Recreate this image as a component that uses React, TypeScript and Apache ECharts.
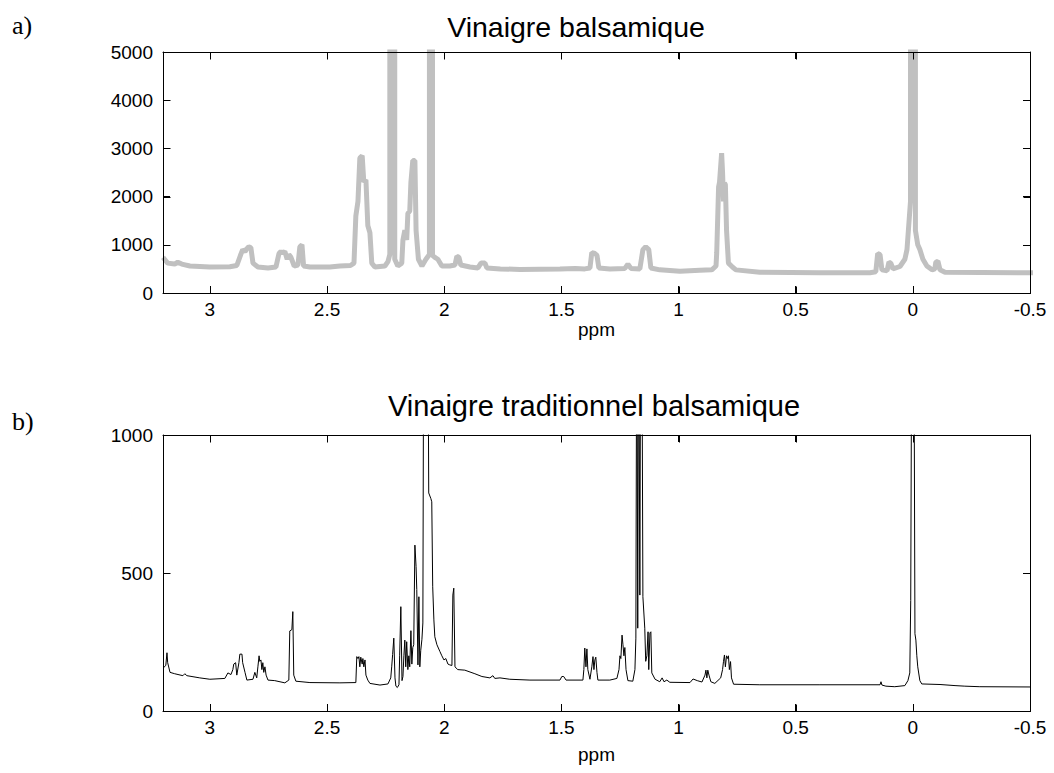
import React, { useEffect, useRef } from "react";
import * as echarts from "echarts";

// a) Vinaigre balsamique — chemical shift (ppm) and intensity
const topPpm = [
  3.2, 3.19, 3.18, 3.15, 3.137, 3.12, 3.085, 3.0, 2.915, 2.885, 2.868, 2.86, 2.85, 2.842, 2.834, 2.825,
  2.816, 2.795, 2.752, 2.718, 2.705, 2.697, 2.69, 2.68, 2.67, 2.663, 2.654, 2.64, 2.624, 2.616, 2.607,
  2.6, 2.573, 2.488, 2.445, 2.4, 2.385, 2.377, 2.368, 2.36, 2.35, 2.343, 2.334, 2.326, 2.317, 2.309,
  2.296, 2.253, 2.24, 2.232, 2.232, 2.211, 2.211, 2.198, 2.181, 2.176, 2.168, 2.16, 2.155, 2.147, 2.142, 2.134,
  2.125, 2.12, 2.11, 2.095, 2.078, 2.063, 2.063, 2.05, 2.05, 2.04, 2.027, 2.01, 1.976, 1.954, 1.946, 1.937, 1.929,
  1.89, 1.856, 1.843, 1.826, 1.818, 1.76, 1.677, 1.506, 1.44, 1.4, 1.378, 1.37, 1.357, 1.348, 1.34,
  1.293, 1.229, 1.216, 1.203, 1.165, 1.152, 1.14, 1.127, 1.118, 1.08, 0.994, 0.909, 0.858, 0.84, 0.837,
  0.829, 0.825, 0.816, 0.812, 0.808, 0.804, 0.8, 0.795, 0.787, 0.77, 0.755, 0.653, 0.4, 0.183, 0.158,
  0.15, 0.14, 0.132, 0.11, 0.102, 0.094, 0.085, 0.055, 0.034, 0.025, 0.01, 0.01, -0.011, -0.011, -0.021,
  -0.03, -0.043, -0.06, -0.082, -0.094, -0.098, -0.107, -0.116, -0.137, -0.517,
];
const topIntensity = [
  740, 680, 620, 600, 640, 600, 560, 540, 545, 570, 800, 900, 860, 920, 960, 940,
  620, 540, 520, 540, 820, 860, 830, 860, 700, 800, 740, 560, 580, 960, 1000,
  560, 540, 540, 560, 570, 620, 1600, 1900, 2800, 2850, 2300, 2350, 1400, 1250, 620,
  540, 560, 650, 800, 9000, 9000, 700, 560, 620, 1100, 1300, 1100, 1650, 1700, 2300, 2750,
  2750, 1300, 700, 560, 700, 800, 9000, 9000, 780, 740, 700, 560, 560, 580, 760, 740, 580,
  540, 520, 620, 620, 520, 500, 490, 500, 510, 500, 520, 840, 820, 780, 520,
  500, 510, 600, 510, 500, 900, 960, 900, 520, 480, 450, 470, 480, 560, 830,
  2200, 2300, 2900, 2500, 1900, 2280, 2250, 1300, 620, 540, 480, 430, 420, 420, 440,
  820, 800, 480, 460, 640, 620, 500, 550, 700, 900, 1900, 9000, 9000, 1300, 1000,
  900, 700, 560, 480, 500, 640, 660, 480, 430, 420,
];

// b) Vinaigre traditionnel balsamique — chemical shift (ppm) and intensity
const bottomPpm = [
  3.2, 3.188, 3.183, 3.18, 3.17, 3.15, 3.115, 3.107, 3.098, 3.043, 3.0, 2.936, 2.923, 2.91, 2.902, 2.898,
  2.89, 2.885, 2.876, 2.872, 2.863, 2.86, 2.85, 2.842, 2.816, 2.808, 2.8, 2.795, 2.79, 2.787, 2.782,
  2.778, 2.774, 2.77, 2.765, 2.76, 2.752, 2.723, 2.68, 2.663, 2.659, 2.65, 2.646, 2.642, 2.633, 2.573,
  2.445, 2.377, 2.373, 2.368, 2.364, 2.36, 2.356, 2.35, 2.347, 2.343, 2.338, 2.334, 2.326, 2.317, 2.274,
  2.24, 2.228, 2.224, 2.22, 2.215, 2.21, 2.206, 2.2, 2.193, 2.19, 2.185, 2.18, 2.176, 2.172, 2.168,
  2.164, 2.16, 2.155, 2.151, 2.147, 2.142, 2.138, 2.134, 2.13, 2.125, 2.12, 2.117, 2.112, 2.108, 2.104,
  2.1, 2.095, 2.091, 2.087, 2.07, 2.066, 2.057, 2.053, 2.049, 2.044, 2.04, 2.031, 2.018, 2.01, 2.001,
  1.993, 1.984, 1.976, 1.967, 1.963, 1.959, 1.954, 1.942, 1.912, 1.869, 1.839, 1.805, 1.792, 1.784, 1.762,
  1.72, 1.634, 1.506, 1.498, 1.49, 1.48, 1.408, 1.404, 1.4, 1.395, 1.391, 1.387, 1.378, 1.37, 1.365,
  1.361, 1.357, 1.353, 1.348, 1.344, 1.293, 1.263, 1.254, 1.25, 1.246, 1.241, 1.237, 1.233, 1.229, 1.224,
  1.216, 1.195, 1.186, 1.182, 1.178, 1.174, 1.17, 1.165, 1.161, 1.157, 1.152, 1.144, 1.14, 1.135, 1.13,
  1.127, 1.122, 1.118, 1.114, 1.1, 1.08, 1.07, 1.062, 1.05, 1.037, 0.951, 0.938, 0.92, 0.9, 0.887,
  0.883, 0.879, 0.875, 0.87, 0.862, 0.845, 0.82, 0.812, 0.808, 0.804, 0.8, 0.795, 0.79, 0.787, 0.783,
  0.778, 0.774, 0.765, 0.653, 0.4, 0.14, 0.136, 0.132, 0.115, 0.077, 0.034, 0.021, 0.013, 0.009, 0.004,
  -0.004, -0.009, -0.013, -0.017, -0.021, -0.03, -0.038, -0.116, -0.18, -0.222, -0.286, -0.517,
];
const bottomIntensity = [
  155, 165, 211, 175, 140, 135, 128, 135, 128, 120, 115, 118, 138, 132, 150, 170,
  175, 130, 175, 206, 206, 175, 140, 112, 115, 140, 120, 160, 200, 180, 185,
  150, 175, 140, 160, 130, 112, 110, 102, 112, 290, 295, 360, 130, 108, 103,
  102, 103, 197, 190, 197, 160, 195, 170, 190, 160, 185, 130, 112, 100, 94,
  98, 120, 160, 205, 264, 120, 90, 85, 95, 200, 378, 110, 125, 200, 257,
  160, 251, 150, 200, 160, 291, 170, 230, 240, 601, 523, 440, 167, 414, 160,
  220, 260, 319, 1600, 1600, 790, 770, 758, 450, 330, 269, 240, 215, 200, 185,
  190, 170, 167, 165, 420, 445, 160, 150, 148, 135, 125, 120, 128, 118, 120,
  115, 112, 112, 125, 125, 112, 112, 150, 228, 160, 225, 150, 115, 160, 197,
  150, 185, 195, 140, 112, 112, 118, 150, 200, 190, 275, 240, 200, 230, 150,
  110, 108, 150, 264, 1600, 300, 1600, 420, 1600, 1600, 414, 300, 180, 200, 287,
  150, 283, 287, 138, 115, 106, 120, 106, 112, 104, 103, 116, 110, 105, 130,
  148, 120, 148, 130, 106, 100, 120, 150, 180, 203, 160, 200, 190, 200, 150,
  179, 120, 97, 95, 95, 95, 106, 94, 90, 88, 92, 110, 138, 400, 1600,
  1600, 280, 257, 200, 160, 110, 98, 96, 92, 90, 88, 87,
];

// axis ranges and tick values
const ppmRange = [-0.5, 3.2];
const ppmTicks = [3, 2.5, 2, 1.5, 1, 0.5, 0, -0.5];
const topYTicks = [0, 1000, 2000, 3000, 4000, 5000];
const bottomYTicks = [0, 500, 1000];

const topTitle = "Vinaigre balsamique";
const bottomTitle = "Vinaigre traditionnel balsamique";
const xLabel = "ppm";
const panelLabels = ["a)", "b)"];

const SANS = "'Liberation Sans', Arial, Helvetica, sans-serif";
const SERIF = "'Liberation Serif', 'Times New Roman', serif";
const TICK = 7;

function xAxisDef(gridIndex: number, position: "top" | "bottom", withLabels: boolean, nameGap: number) {
  const axis: any = {
    type: "value",
    gridIndex,
    position,
    min: ppmRange[0],
    max: ppmRange[1],
    interval: 0.5,
    inverse: true,
    axisLine: { show: true, onZero: false, lineStyle: { color: "#000", width: 1 } },
    axisTick: { show: true, inside: true, length: TICK, lineStyle: { color: "#000", width: 1 } },
    splitLine: { show: false },
    axisLabel: { show: withLabels, showMaxLabel: false, margin: 7, color: "#000", fontSize: 19, fontFamily: SANS },
  };
  if (withLabels) {
    axis.name = xLabel;
    axis.nameLocation = "middle";
    axis.nameGap = nameGap;
    axis.nameTextStyle = { color: "#000", fontSize: 19, fontFamily: SANS };
  }
  return axis;
}

function yAxisDef(gridIndex: number, position: "left" | "right", withLabels: boolean, ticks: number[]) {
  return {
    type: "value",
    gridIndex,
    position,
    min: ticks[0],
    max: ticks[ticks.length - 1],
    interval: ticks[1] - ticks[0],
    axisLine: { show: true, onZero: false, lineStyle: { color: "#000", width: 1 } },
    axisTick: { show: true, inside: true, length: TICK, lineStyle: { color: "#000", width: 1 } },
    splitLine: { show: false },
    axisLabel: {
      show: withLabels,
      margin: 10,
      color: "#000",
      fontSize: 19,
      fontFamily: SANS,
      formatter: (v: number) => String(v),
    },
  };
}

const crisp = (v: number) => Math.round(v) + 0.5;

export default function App() {
  const ref = useRef<HTMLDivElement>(null);

  useEffect(() => {
    document.body.style.margin = "0";
    if (!ref.current) return;
    const chart = echarts.init(ref.current, undefined, { renderer: "svg" });
    chart.setOption({
      animation: false,
      backgroundColor: "#ffffff",
      grid: [
        { left: 163, top: 52, width: 867, height: 241 },
        { left: 163, top: 435, width: 867, height: 276 },
      ],
      xAxis: [
        xAxisDef(0, "bottom", true, 17),
        xAxisDef(0, "top", false, 0),
        xAxisDef(1, "bottom", true, 34),
        xAxisDef(1, "top", false, 0),
      ],
      yAxis: [
        yAxisDef(0, "left", true, topYTicks),
        yAxisDef(0, "right", false, topYTicks),
        yAxisDef(1, "left", true, bottomYTicks),
        yAxisDef(1, "right", false, bottomYTicks),
      ],
      series: [
        {
          type: "line",
          xAxisIndex: 0,
          yAxisIndex: 0,
          data: topPpm.map((p, i) => [p, topIntensity[i]]),
          showSymbol: false,
          symbol: "none",
          clip: true,
          lineStyle: { color: "#c0c0c0", width: 5 },
        },
        {
          type: "line",
          xAxisIndex: 2,
          yAxisIndex: 2,
          data: bottomPpm.map((p, i) => [p, bottomIntensity[i]]),
          showSymbol: false,
          symbol: "none",
          clip: true,
          lineStyle: { color: "#000", width: 1 },
        },
      ],
    } as any);

    // Frame and inward ticks, positioned through the chart's own scales.
    const frame: any[] = [];
    const lineEl = (x1: number, y1: number, x2: number, y2: number) => ({
      type: "line",
      silent: true,
      z: 10,
      shape: { x1, y1, x2, y2 },
      style: { stroke: "#000", lineWidth: 1 },
    });
    const panels = [
      { xi: 0, yi: 0, yTicks: topYTicks },
      { xi: 2, yi: 2, yTicks: bottomYTicks },
    ];
    panels.forEach(({ xi, yi, yTicks }) => {
      const finder = { xAxisIndex: xi, yAxisIndex: yi };
      const yMax = yTicks[yTicks.length - 1];
      const p0 = chart.convertToPixel(finder as any, [ppmRange[1], 0]) as number[];
      const p1 = chart.convertToPixel(finder as any, [ppmRange[0], yMax]) as number[];
      const L = crisp(p0[0]) - 0.5 + 0.5;
      const left = Math.round(p0[0]) + 0.5;
      const right = Math.round(p1[0]) + 0.5;
      const bottom = Math.round(p0[1]) + 0.5;
      const top = Math.round(p1[1]) + 0.5;
      void L;
      frame.push(lineEl(left, top, right, top));
      frame.push(lineEl(left, bottom, right, bottom));
      frame.push(lineEl(left, top, left, bottom));
      frame.push(lineEl(right, top, right, bottom));
      ppmTicks.forEach((t) => {
        const px = chart.convertToPixel(finder as any, [t, 0]) as number[];
        const x = crisp(px[0]);
        frame.push(lineEl(x, bottom, x, bottom - TICK));
        frame.push(lineEl(x, top, x, top + TICK));
      });
      yTicks.forEach((t) => {
        const px = chart.convertToPixel(finder as any, [ppmRange[1], t]) as number[];
        const y = crisp(px[1]);
        frame.push(lineEl(left, y, left + TICK, y));
        frame.push(lineEl(right, y, right - TICK, y));
      });
    });

    chart.setOption({
      graphic: [
        { type: "text", x: 576, y: 12, style: { text: topTitle, fill: "#000", font: `28.5px ${SANS}`, align: "center", verticalAlign: "top" } },
        { type: "text", x: 594, y: 391, style: { text: bottomTitle, fill: "#000", font: `29px ${SANS}`, align: "center", verticalAlign: "top" } },
        { type: "text", x: 12, y: 12, style: { text: panelLabels[0], fill: "#000", font: `26px ${SERIF}`, align: "left", verticalAlign: "top" } },
        { type: "text", x: 12, y: 408, style: { text: panelLabels[1], fill: "#000", font: `26px ${SERIF}`, align: "left", verticalAlign: "top" } },
        ...frame,
      ],
    } as any);
    return () => chart.dispose();
  }, []);

  return <div ref={ref} style={{ width: 1054, height: 773 }} />;
}
